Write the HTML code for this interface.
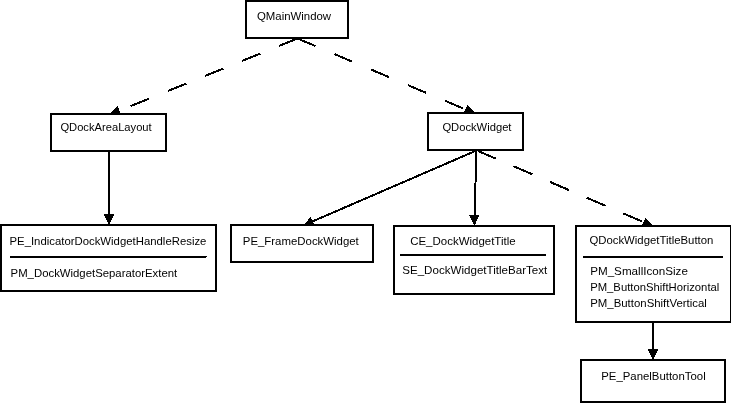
<!DOCTYPE html>
<html><head><meta charset="utf-8">
<style>
html,body{margin:0;padding:0;background:#fff;width:731px;height:403px;overflow:hidden}
svg{display:block;will-change:transform}
text{font-family:"Liberation Sans",sans-serif;font-size:11px;fill:#000}
</style></head><body>
<svg width="731" height="403" viewBox="0 0 731 403">
<g stroke="#000" stroke-width="2" fill="none" shape-rendering="crispEdges">
  <line x1="297.5" y1="38.5" x2="113.5" y2="113" stroke-dasharray="20 20"/>
  <line x1="297.5" y1="38.5" x2="471.6" y2="112" stroke-dasharray="19.5 20.5"/>
  <line x1="478" y1="151" x2="650.3" y2="225" stroke-dasharray="20.5 19.3" stroke-dashoffset="1.2"/>
  <line x1="109" y1="152" x2="109" y2="214"/>
  <line x1="475.3" y1="151" x2="306.6" y2="224"/>
  <line x1="476" y1="151" x2="475" y2="215"/>
  <line x1="653" y1="323" x2="653" y2="349"/>
</g>
<g fill="#000" shape-rendering="crispEdges">
  <polygon points="117.7,106 110.3,113.5 120.6,113.5"/>
  <polygon points="467.4,105.1 463,113.5 475.7,113.5"/>
  <polygon points="310.5,216.8 303.7,225.5 315,225.5"/>
  <polygon points="645.4,217.9 641.2,226.5 653.4,226.5"/>
  <polygon points="103.7,213.9 114.3,213.9 109,225.2"/>
  <polygon points="468.7,214.9 479.3,214.9 474.5,226.2"/>
  <polygon points="647.7,348.9 658.3,348.9 653,360.2"/>
</g>
<g stroke="#000" stroke-width="2" fill="#fff">
  <rect x="246" y="1" width="102" height="37"/>
  <rect x="51" y="114" width="115" height="37"/>
  <rect x="428" y="113" width="95" height="37"/>
  <rect x="1" y="225" width="215" height="66"/>
  <rect x="231" y="225" width="142" height="37"/>
  <rect x="394" y="226" width="160" height="68"/>
  <rect x="576" y="226" width="155" height="96"/>
  <rect x="581" y="360" width="144" height="42"/>
</g>
<g stroke="#000" stroke-width="2">
  <path d="M10 256h197v1h-1v1h-196z" stroke="none" fill="#000"/>
  <line x1="400" y1="255" x2="546" y2="255"/>
  <line x1="583" y1="257" x2="723" y2="257"/>
</g>
<text x="257.0" y="20" textLength="74.1" lengthAdjust="spacingAndGlyphs">QMainWindow</text>
<text x="60.4" y="131" textLength="91.3" lengthAdjust="spacingAndGlyphs">QDockAreaLayout</text>
<text x="442.4" y="131" textLength="69.1" lengthAdjust="spacingAndGlyphs">QDockWidget</text>
<text x="9.5" y="245" textLength="196.9" lengthAdjust="spacingAndGlyphs">PE_IndicatorDockWidgetHandleResize</text>
<text x="10.6" y="277" textLength="166.6" lengthAdjust="spacingAndGlyphs">PM_DockWidgetSeparatorExtent</text>
<text x="242.8" y="245" textLength="116.0" lengthAdjust="spacingAndGlyphs">PE_FrameDockWidget</text>
<text x="410.2" y="245" textLength="105.4" lengthAdjust="spacingAndGlyphs">CE_DockWidgetTitle</text>
<text x="402.2" y="274" textLength="145.1" lengthAdjust="spacingAndGlyphs">SE_DockWidgetTitleBarText</text>
<text x="589.4" y="244" textLength="124.0" lengthAdjust="spacingAndGlyphs">QDockWidgetTitleButton</text>
<text x="590.2" y="275" textLength="97.7" lengthAdjust="spacingAndGlyphs">PM_SmallIconSize</text>
<text x="590.2" y="291" textLength="129.1" lengthAdjust="spacingAndGlyphs">PM_ButtonShiftHorizontal</text>
<text x="590.2" y="307" textLength="116.7" lengthAdjust="spacingAndGlyphs">PM_ButtonShiftVertical</text>
<text x="601.2" y="380" textLength="104.5" lengthAdjust="spacingAndGlyphs">PE_PanelButtonTool</text>
</svg>
</body></html>
